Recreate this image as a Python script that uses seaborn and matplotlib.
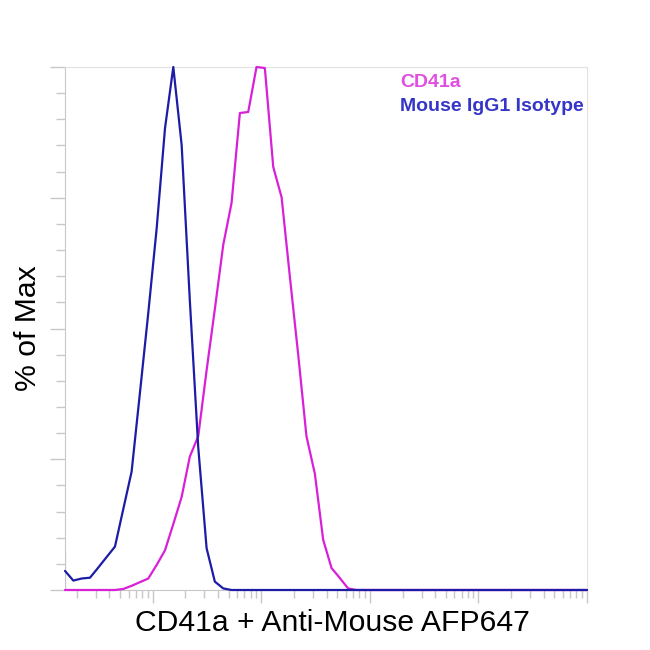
import seaborn as sns
import pandas as pd
import matplotlib.pyplot as plt
from matplotlib.ticker import LogLocator, MultipleLocator, NullFormatter

# histogram bin centres (log spaced channel values)
bins = [1.56, 1.86, 2.22, 2.65, 3.16, 3.77, 4.50, 5.37, 6.40, 7.64,
        9.12, 10.9, 13.0, 15.5, 18.5, 22.0, 26.3, 31.4, 37.4, 44.7,
        53.3, 63.6, 75.9, 90.5, 108, 129, 154, 184, 219, 261,
        312, 372, 444, 529, 631, 752, 100000]

# % of Max for each series
isotype = [7.3, 1.8, 2.2, 2.35, 4.3, 6.3, 8.3, 15.5, 22.6, 37.7,
           53.0, 69.2, 88.3, 100, 85.1, 55.4, 27.3, 8.0, 1.6, 0.3,
           0, 0, 0, 0, 0, 0, 0, 0, 0, 0,
           0, 0, 0, 0, 0, 0, 0]
cd41a = [0, 0, 0, 0, 0, 0, 0, 0.2, 0.8, 1.5,
         2.2, 4.8, 7.6, 12.6, 17.8, 25.5, 29.4, 42.0, 53.7, 66.0,
         74.0, 91.2, 91.4, 100, 99.8, 80.9, 75.1, 59.7, 45.0, 29.4,
         22.2, 9.6, 4.2, 2.3, 0.3, 0, 0]

series_names = ["CD41a", "Mouse IgG1 Isotype"]
line_colors = ["#d820d8", "#1c1ca6"]
text_colors = ["#e050e0", "#3535c8"]

# the isotype trace starts with a vertical step up from 0 at the first bin
iso_x = [bins[0]] + bins
iso_y = [0] + isotype

df_cd = pd.DataFrame({"x": bins, "y": cd41a})
df_iso = pd.DataFrame({"x": iso_x, "y": iso_y})

sns.set_style("white")
plt.rcParams["font.family"] = ["Liberation Sans", "DejaVu Sans"]

fig = plt.figure(figsize=(6.5, 6.5), dpi=100)
ax = fig.add_axes([65 / 650, 60 / 650, 522 / 650, 523 / 650])

sns.lineplot(data=df_cd, x="x", y="y", sort=False, color=line_colors[0],
             linewidth=1.6, ax=ax, clip_on=False, zorder=3)
sns.lineplot(data=df_iso, x="x", y="y", sort=False, color=line_colors[1],
             linewidth=1.6, ax=ax, clip_on=False, zorder=4)

ax.set_xscale("log")
ax.set_xlim(10 ** 0.193, 1e5)
ax.set_ylim(0, 100)

ax.xaxis.set_major_locator(LogLocator(base=10))
ax.xaxis.set_minor_locator(LogLocator(base=10, subs=range(2, 10)))
ax.yaxis.set_major_locator(MultipleLocator(25))
ax.yaxis.set_minor_locator(MultipleLocator(5))
ax.xaxis.set_major_formatter(NullFormatter())
ax.xaxis.set_minor_formatter(NullFormatter())
ax.yaxis.set_major_formatter(NullFormatter())

tick_col = "#c8c8c8"
ax.tick_params(axis="x", which="major", direction="out", length=9.5, width=1, color=tick_col, bottom=True)
ax.tick_params(axis="x", which="minor", direction="out", length=6, width=1, color=tick_col, bottom=True)
ax.tick_params(axis="y", which="major", direction="out", length=11, width=1, color=tick_col, left=True)
ax.tick_params(axis="y", which="minor", direction="out", length=6.5, width=1, color=tick_col, left=True)

for side in ["top", "right"]:
    ax.spines[side].set_color("#e2e2e2")
for side in ["left", "bottom"]:
    ax.spines[side].set_color("#c8c8c8")

ax.set_xlabel("CD41a + Anti-Mouse AFP647", fontsize=21.7, labelpad=1, color="black")
ax.xaxis.label.set_x(0.513)
ax.set_ylabel("% of Max", fontsize=21.7, labelpad=2, color="black")

ax.text(0.642, 0.971, series_names[0], transform=ax.transAxes, color=text_colors[0],
        fontsize=14, fontweight="bold", ha="left", va="center")
ax.text(0.642, 0.925, series_names[1], transform=ax.transAxes, color=text_colors[1],
        fontsize=14, fontweight="bold", ha="left", va="center")

fig.savefig("out.png", dpi=100)
